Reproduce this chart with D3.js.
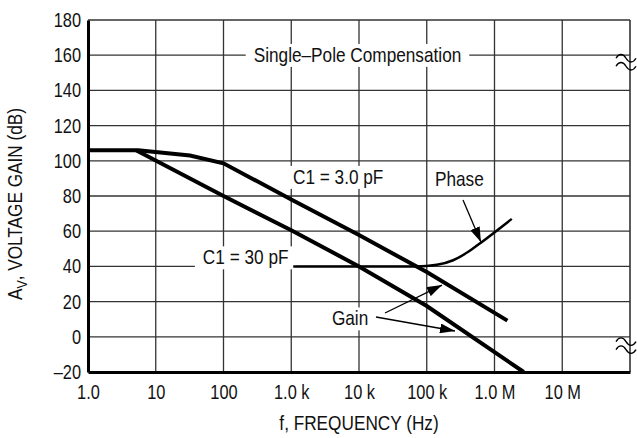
<!DOCTYPE html>
<html>
<head>
<meta charset="utf-8">
<script src="https://cdn.jsdelivr.net/npm/d3@7"></script>
<style>
  body { margin: 0; background: #fff; }
</style>
</head>
<body>
<div id="chart"></div>
<script>
// axis ticks
const xTicks = [1, 10, 100, 1e3, 1e4, 1e5, 1e6, 1e7];
const xTickLabels = ["1.0", "10", "100", "1.0 k", "10 k", "100 k", "1.0 M", "10 M"];
const yTicks = [-20, 0, 20, 40, 60, 80, 100, 120, 140, 160, 180];
const yTickLabels = ["–20", "0", "20", "40", "60", "80", "100", "120", "140", "160", "180"];

// gain, C1 = 3.0 pF (Hz, dB)
const gain3Freq = [1, 5.5, 32, 100, 1e3, 1e4, 1e5, 1.55e6];
const gain3Db = [106, 106, 103, 98.6, 78, 57.8, 36.8, 9.2];
// gain, C1 = 30 pF
const gain30Freq = [5.2, 100, 1e3, 1e4, 1e5, 2.7e6];
const gain30Db = [105.8, 80, 60.5, 40, 17.5, -20];
// phase curve
const phaseFreq = [1.07e3, 7e4, 1.41e5, 2.45e5, 4e5, 6.3e5, 1.8e6];
const phaseVal = [40, 40, 40.9, 43.5, 48, 53.5, 67];

const W = 637, H = 438;
const margin = { top: 20, right: 7, bottom: 66, left: 88 };

// is the narrow face there? otherwise squeeze the regular one
const ctx = document.createElement("canvas").getContext("2d");
ctx.font = '20px "Liberation Sans Narrow", monospace';
const w1 = ctx.measureText("Single Pole 100").width;
ctx.font = '20px monospace';
const w2 = ctx.measureText("Single Pole 100").width;
const hasNarrow = Math.abs(w1 - w2) > 0.5;
const font = hasNarrow ? '"Liberation Sans Narrow", "Arial Narrow", sans-serif' : '"Liberation Sans", Arial, sans-serif';
const sx = hasNarrow ? 1 : 0.82;

const svg = d3.select("#chart").append("svg")
    .attr("width", W).attr("height", H)
    .style("font-family", font);

const x = d3.scaleLog().domain([1, 1e8]).range([margin.left, W - margin.right]);
const y = d3.scaleLinear().domain([-20, 180]).range([H - margin.bottom, margin.top]);

// grid
svg.append("g").selectAll("line")
    .data(xTicks.slice(1).concat([1e8]))
    .enter().append("line")
    .attr("x1", d => x(d)).attr("x2", d => x(d))
    .attr("y1", y(-20)).attr("y2", y(180))
    .attr("stroke", "#333").attr("stroke-width", d => d === 1e8 ? 1.6 : 1.3);

svg.append("g").selectAll("line")
    .data(yTicks.slice(1))
    .enter().append("line")
    .attr("x1", x(1)).attr("x2", x(1e8))
    .attr("y1", d => y(d)).attr("y2", d => y(d))
    .attr("stroke", "#333").attr("stroke-width", 1.3);

// annotations with white boxes
function note(freq, db, str, anchor, padX) {
    const g = svg.append("g").attr("transform", `translate(${x(freq)},${y(db)})`);
    const t = g.append("text")
        .attr("transform", `scale(${sx},1)`)
        .attr("text-anchor", anchor)
        .attr("font-size", 21)
        .attr("fill", "#111")
        .text(str);
    const b = t.node().getBBox();
    g.insert("rect", "text")
        .attr("x", b.x * sx - padX).attr("y", b.y + 1)
        .attr("width", b.width * sx + 2 * padX).attr("height", b.height)
        .attr("fill", "#fff");
}
note(9.5e3, 156.4, "Single–Pole Compensation", "middle", 8);
note(1.06e3, 87.1, "C1 = 3.0 pF", "start", 3);
note(49.6, 41.4, "C1 = 30 pF", "start", 8);
note(1.32e5, 85.7, "Phase", "start", 2);
note(3.98e3, 6.7, "Gain", "start", 2);

// curves
const line = d3.line().x(d => x(d[0])).y(d => y(d[1]));
svg.append("path")
    .datum(d3.zip(gain3Freq, gain3Db))
    .attr("d", line)
    .attr("fill", "none").attr("stroke", "#000").attr("stroke-width", 4);
svg.append("path")
    .datum(d3.zip(gain30Freq, gain30Db))
    .attr("d", line)
    .attr("fill", "none").attr("stroke", "#000").attr("stroke-width", 4);
svg.append("path")
    .datum(d3.zip(phaseFreq, phaseVal))
    .attr("d", line.curve(d3.curveMonotoneX))
    .attr("fill", "none").attr("stroke", "#000").attr("stroke-width", 2.5);

// pointer arrows
svg.append("defs").append("marker")
    .attr("id", "head")
    .attr("markerUnits", "userSpaceOnUse")
    .attr("markerWidth", 16).attr("markerHeight", 10)
    .attr("refX", 15).attr("refY", 5)
    .attr("orient", "auto")
    .append("path").attr("d", "M0,0L15,5L0,10Z").attr("fill", "#000");

const arrows = [
    [[3.43e5, 77.7], [6.3e5, 53.8]],
    [[2.42e4, 13.5], [1.68e5, 29.4]],
    [[1.78e4, 11.25], [2.61e5, 3.3]]
];
svg.append("g").selectAll("line")
    .data(arrows)
    .enter().append("line")
    .attr("x1", d => x(d[0][0])).attr("y1", d => y(d[0][1]))
    .attr("x2", d => x(d[1][0])).attr("y2", d => y(d[1][1]))
    .attr("stroke", "#000").attr("stroke-width", 1.3)
    .attr("marker-end", "url(#head)");

// axes
const xAxis = svg.append("g")
    .attr("transform", `translate(0,${y(-20)})`)
    .call(d3.axisBottom(x).tickValues(xTicks)
        .tickFormat((d, i) => xTickLabels[i])
        .tickSize(0).tickSizeOuter(0).tickPadding(13));
const yAxis = svg.append("g")
    .attr("transform", `translate(${x(1)},0)`)
    .call(d3.axisLeft(y).tickValues(yTicks)
        .tickFormat((d, i) => yTickLabels[i])
        .tickSize(0).tickSizeOuter(0).tickPadding(7));
svg.selectAll(".domain").attr("stroke", "#000").attr("stroke-width", 3);
svg.selectAll(".tick text")
    .attr("font-family", font).attr("font-size", 20).attr("fill", "#111")
    .attr("transform", `scale(${sx},1)`);
yAxis.selectAll(".tick text").attr("x", -7 / sx);

// axis titles
const yt = svg.append("text")
    .attr("transform", `translate(22,204) rotate(-90) scale(${sx},1)`)
    .attr("text-anchor", "middle").attr("font-size", 21).attr("fill", "#111");
yt.append("tspan").text("A");
yt.append("tspan").attr("font-size", 15).attr("dy", 5).text("V");
yt.append("tspan").attr("dy", -5).text(", VOLTAGE GAIN (dB)");

svg.append("text")
    .attr("transform", `translate(${(x(1) + x(1e8)) / 2},430) scale(${sx},1)`)
    .attr("text-anchor", "middle").attr("font-size", 21).attr("fill", "#111")
    .text("f, FREQUENCY (Hz)");

// axis break marks on the right edge
const breaks = [156, -5];
svg.append("g").selectAll("path")
    .data(breaks)
    .enter().append("path")
    .attr("transform", d => `translate(${x(1e8)},${y(d)})`)
    .attr("d", "M-14,-4c3,-5 7,-5 10,0s7,5 10,0M-14,4c3,-5 7,-5 10,0s7,5 10,0")
    .attr("fill", "none").attr("stroke", "#000").attr("stroke-width", 1.4);
</script>
</body>
</html>
